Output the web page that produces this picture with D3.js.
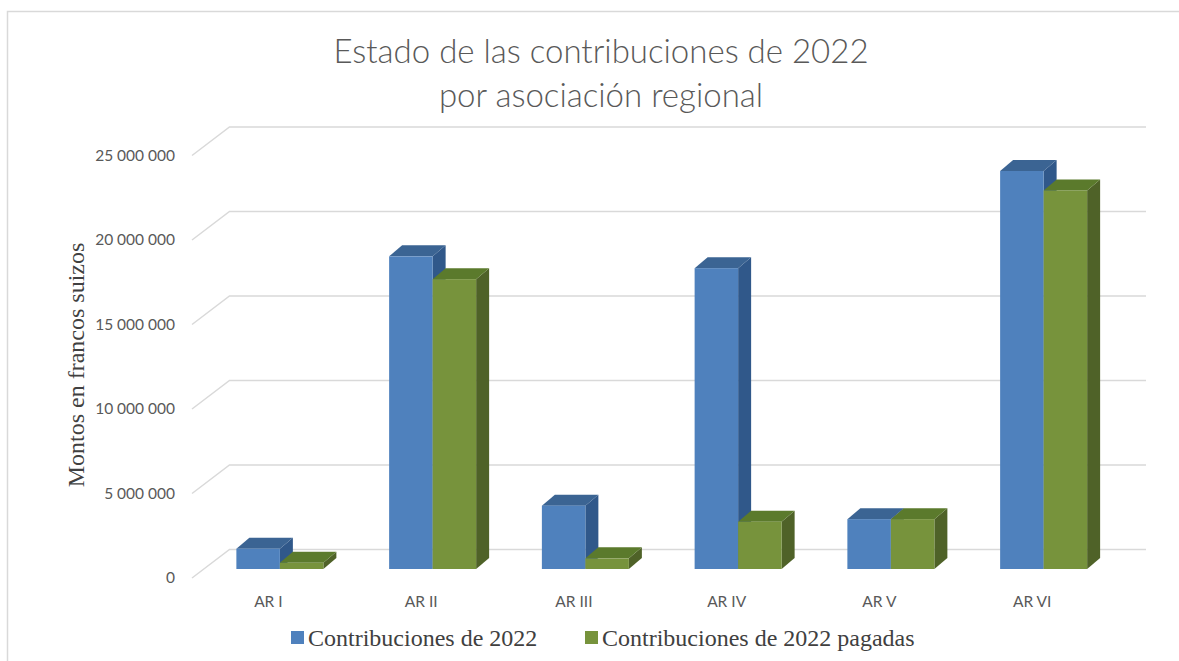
<!DOCTYPE html>
<html>
<head>
<meta charset="utf-8">
<script src="https://cdn.jsdelivr.net/npm/d3@7"></script>
<style>
  html, body { margin: 0; padding: 0; background: #fff; }
  svg { display: block; }
</style>
</head>
<body>
<svg id="chart" width="1179" height="661"></svg>
<script>
const categories = ["AR I", "AR II", "AR III", "AR IV", "AR V", "AR VI"];
const seriesNames = ["Contribuciones de 2022", "Contribuciones de 2022 pagadas"];
const contribuciones = [1200000, 18500000, 3750000, 17800000, 2950000, 23550000];
const pagadas = [370000, 17150000, 630000, 2800000, 2950000, 22400000];
const yTicks = [0, 5000000, 10000000, 15000000, 20000000, 25000000];
const titleLines = ["Estado de las contribuciones de 2022", "por asociación regional"];
const yTitle = "Montos en francos suizos";

const svg = d3.select("#chart");
const W = 1179, H = 661;

// palette
const faceColors = [
  { front: "#4F81BD", top: "#3B6493", side: "#30588A" },
  { front: "#77933C", top: "#5B7A2C", side: "#4F6228" }
];
const gridColor = "#D9D9D9";

// 3D geometry (oblique projection)
const wallDepth = { dx: 37.5, dy: -28.5 };   // full floor depth
const barOffset = { dx: 11.5, dy: -9 };      // bar front plane offset
const barDepth = { dx: 13, dy: -11 };        // bar thickness

// scales (front plane)
const y = d3.scaleLinear().domain([0, 25000000]).range([578, 155.5]);
const x = d3.scaleBand().domain(categories).range([192, 1108.5]).padding(0);
const xs = d3.scaleBand().domain(seriesNames).range([-43.5, 43.5]).padding(0);

// outer frame
svg.append("path")
  .attr("d", `M7.5,${H} L7.5,11.5 L${W},11.5`)
  .attr("fill", "none").attr("stroke", gridColor).attr("stroke-width", 1.5);

// gridlines: diagonal side + back wall horizontal
const grid = svg.append("g").attr("fill", "none").attr("stroke", gridColor).attr("stroke-width", 1.5);
yTicks.forEach(t => {
  const x0 = x.range()[0], x1 = x.range()[1];
  grid.append("path")
    .attr("d", `M${x0},${y(t)} L${x0 + wallDepth.dx},${y(t) + wallDepth.dy} L${x1 + wallDepth.dx},${y(t) + wallDepth.dy}`);
});

// y axis labels
const fmt = d3.formatLocale({ decimal: ",", thousands: " ", grouping: [3], currency: ["", ""] }).format(",");
const yAxis = svg.append("g")
  .attr("transform", "translate(180,0)")
  .call(d3.axisLeft(y).tickValues(yTicks).tickFormat(fmt).tickSize(0).tickPadding(5));
yAxis.select(".domain").remove();
yAxis.selectAll("text")
  .attr("font-family", "Lato, 'Open Sans', sans-serif")
  .attr("font-size", 15.5)
  .attr("fill", "#595959");

// x axis labels (front plane)
const xAxis = svg.append("g")
  .attr("transform", "translate(0,591)")
  .call(d3.axisBottom(x).tickSize(0).tickPadding(5));
xAxis.select(".domain").remove();
xAxis.selectAll("text")
  .attr("font-family", "Lato, 'Open Sans', sans-serif")
  .attr("font-size", 15.5)
  .attr("fill", "#595959");

// bars
const seriesData = [contribuciones, pagadas];
const bars = svg.append("g");
categories.forEach((cat, i) => {
  seriesData.forEach((vals, s) => {
    const v = vals[i];
    const c = x(cat) + x.bandwidth() / 2 + barOffset.dx;
    const x0 = c + xs(seriesNames[s]);
    const x1 = x0 + xs.bandwidth();
    const yb = y(0) + barOffset.dy;
    const yt = y(v) + barOffset.dy;
    const col = faceColors[s];
    const g = bars.append("g");
    // right side face
    g.append("path")
      .attr("d", `M${x1},${yb} L${x1 + barDepth.dx},${yb + barDepth.dy} L${x1 + barDepth.dx},${yt + barDepth.dy} L${x1},${yt} Z`)
      .attr("fill", col.side);
    // top face
    g.append("path")
      .attr("d", `M${x0},${yt} L${x0 + barDepth.dx},${yt + barDepth.dy} L${x1 + barDepth.dx},${yt + barDepth.dy} L${x1},${yt} Z`)
      .attr("fill", col.top);
    // front face
    g.append("rect")
      .attr("x", x0).attr("y", yt)
      .attr("width", x1 - x0).attr("height", yb - yt)
      .attr("fill", col.front);
  });
});

// title
const title = svg.append("text")
  .attr("text-anchor", "middle")
  .attr("font-family", "Lato, 'Open Sans', sans-serif")
  .attr("font-weight", 300)
  .attr("font-size", 33)
  .attr("fill", "#595959");
titleLines.forEach((t, i) => {
  title.append("tspan").attr("x", 601).attr("y", 63 + i * 44).text(t);
});

// y axis title
svg.append("text")
  .attr("transform", "translate(84,365) rotate(-90)")
  .attr("text-anchor", "middle")
  .attr("font-family", "'Liberation Serif', 'Times New Roman', serif")
  .attr("font-size", 24)
  .attr("fill", "#404040")
  .text(yTitle);

// legend
const legendX = [291, 585];
const legend = svg.append("g");
seriesNames.forEach((name, s) => {
  legend.append("rect")
    .attr("x", legendX[s]).attr("y", 631)
    .attr("width", 13).attr("height", 13)
    .attr("fill", faceColors[s].front);
  legend.append("text")
    .attr("x", legendX[s] + 17).attr("y", 646)
    .attr("font-family", "'Liberation Serif', 'Times New Roman', serif")
    .attr("font-size", 24)
    .attr("fill", "#404040")
    .text(name);
});
</script>
</body>
</html>
